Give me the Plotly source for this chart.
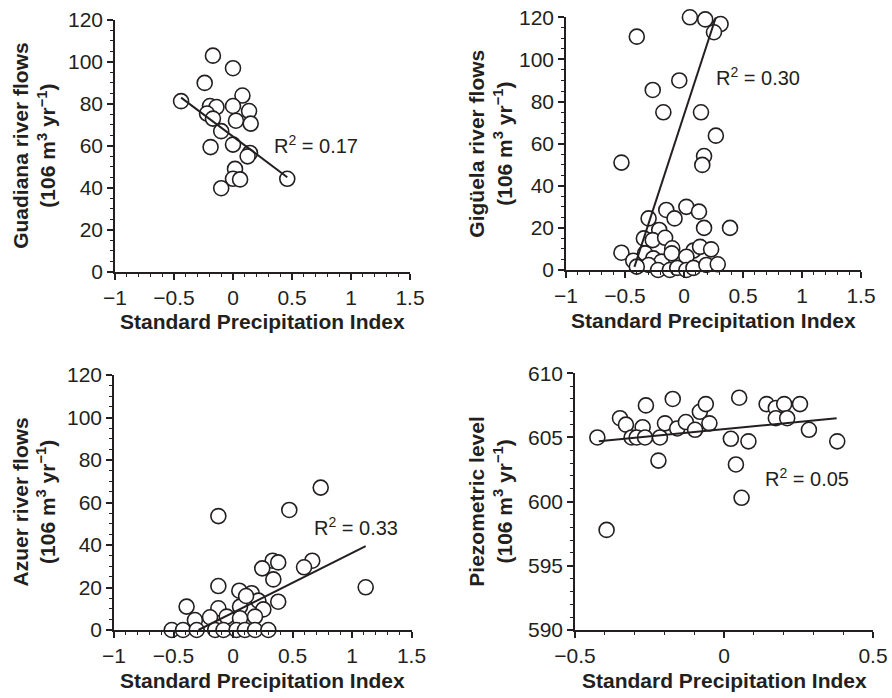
import plotly.graph_objects as go

# ---------------- data ----------------
# Panel A: Guadiana
gua_x = [-0.44, -0.17, 0.0, -0.24, 0.08, -0.195, -0.14, -0.22, 0.0, 0.136, 0.025, 0.15,
         -0.17, -0.10, -0.19, 0.0, 0.144, 0.124, 0.017, 0.0, 0.06, -0.10, 0.46]
gua_y = [81.3, 103, 97, 90, 84, 79, 78.5, 75.4, 79, 76.6, 72, 70.6,
         73, 67, 59.4, 60.6, 56.6, 55, 49, 44.3, 44, 39.8, 44.3]
gua_trend_x = [-0.44, 0.46]
gua_trend_y = [83, 45]

# Panel B: Gigüela
gig_x = [0.05, 0.18, 0.31, 0.254, -0.40, -0.04, -0.265, -0.175, 0.144, 0.27, -0.53, 0.17,
         0.155, 0.02, -0.15, 0.127, -0.30, -0.08, -0.21, 0.17, 0.39, -0.34, -0.265, -0.16,
         -0.10, 0.08, 0.136, 0.23, -0.53, -0.43, -0.33, -0.26, -0.19, -0.104, 0.02, -0.30,
         -0.22, -0.12, -0.057, 0.02, 0.08, 0.19, 0.286, -0.40]
gig_y = [120, 119, 116.8, 112.9, 110.8, 90, 85.5, 74.9, 74.9, 63.8, 51, 54.1,
         49.9, 30, 28.5, 27.7, 24.5, 24.5, 19, 20, 20, 15, 14.2, 15.3,
         10.3, 9.2, 11, 9.8, 8.2, 4.4, 7.9, 5.5, 4, 7.9, 6.3, 2.4,
         0, 0, 1, 0, 1, 2.4, 2.7, 1.6]
gig_trend_x = [-0.42, 0.27]
gig_trend_y = [1.5, 120]

# Panel C: Azuer
azu_x = [0.737, 0.473, -0.123, 1.115, 0.666, 0.597, 0.333, 0.38, 0.246, 0.339, -0.123, 0.053,
         0.157, 0.213, 0.38, -0.39, -0.123, 0.059, 0.255, -0.32, -0.193, -0.053, 0.059, 0.185,
         0.11, -0.515, -0.42, -0.305, -0.15, -0.08, 0.03, 0.10, 0.185, 0.297]
azu_y = [67, 56.5, 53.6, 20.1, 32.6, 29.5, 32.6, 31.8, 29, 23.8, 20.7, 18.5,
         17.3, 13.8, 13.3, 11, 10.2, 11, 9.7, 4.7, 6, 6.3, 5.5, 6.3,
         16, 0, 0, 0, 0, 0, 0, 0, 0, 0]
azu_trend_x = [-0.29, 1.115]
azu_trend_y = [0, 39.5]

# Panel D: Piezometric level
pie_x = [-0.425, -0.394, -0.349, -0.329, -0.262, -0.172, -0.273, -0.31, -0.293, -0.265, -0.215,
         -0.198, -0.22, -0.157, -0.128, -0.097, -0.081, -0.061, -0.049, 0.023, 0.051, 0.082,
         0.04, 0.059, 0.143, 0.174, 0.202, 0.174, 0.212, 0.255, 0.285, 0.38]
pie_y = [605.0, 597.8, 606.5, 606.0, 607.5, 608.0, 605.8, 605.0, 605.0, 605.0, 605.0,
         606.1, 603.2, 605.7, 606.2, 605.6, 607.0, 607.6, 606.1, 604.9, 608.1, 604.7,
         602.9, 600.3, 607.6, 607.3, 607.6, 606.5, 606.5, 607.6, 605.6, 604.7]
pie_trend_x = [-0.42, 0.378]
pie_trend_y = [604.7, 606.5]

r2_texts = ["0.17", "0.30", "0.33", "0.05"]
y_titles = ["Guadiana river flows", "Gigüela river flows", "Azuer river flows", "Piezometric level"]
x_title = "Standard Precipitation Index"
unit = "(106 m<sup>3</sup> yr<sup>\u22121</sup>)"

# ---------------- layout geometry ----------------
W, H = 892, 698
FONT = "Liberation Sans, Arial, sans-serif"
INK = "#231f20"
FS = 21

def dom_x(a, b):
    return [a / W, b / W]

def dom_y(top, bottom):
    return [1 - bottom / H, 1 - top / H]

panels = [
    dict(xd=dom_x(115, 410), yd=dom_y(20, 271.7), xr=[-1, 1.5], yr=[0, 120], xdt=0.5, ydt=20,
         xmin=0.1, ymin=5, x=gua_x, y=gua_y, tx=gua_trend_x, ty=gua_trend_y,
         r2pos=(0.33, 60.5), ytx=34, axis_bottom=271.7),
    dict(xd=dom_x(566, 861), yd=dom_y(17.3, 270), xr=[-1, 1.5], yr=[0, 120], xdt=0.5, ydt=20,
         xmin=0.1, ymin=5, x=gig_x, y=gig_y, tx=gig_trend_x, ty=gig_trend_y,
         r2pos=(0.25, 92), ytx=490, axis_bottom=270),
    dict(xd=dom_x(114, 411.5), yd=dom_y(375, 630), xr=[-1, 1.5], yr=[0, 120], xdt=0.5, ydt=20,
         xmin=0.1, ymin=5, x=azu_x, y=azu_y, tx=azu_trend_x, ty=azu_trend_y,
         r2pos=(0.66, 48.6), ytx=34, axis_bottom=630),
    dict(xd=dom_x(575, 873), yd=dom_y(373.3, 630), xr=[-0.5, 0.5], yr=[590, 610], xdt=0.5, ydt=5,
         xmin=0.1, ymin=1, x=pie_x, y=pie_y, tx=pie_trend_x, ty=pie_trend_y,
         r2pos=(0.132, 601.9), ytx=490, axis_bottom=630),
]

fig = go.Figure()
annotations = []
for i, p in enumerate(panels):
    n = "" if i == 0 else str(i + 1)
    xa, ya = "x" + n, "y" + n
    fig.add_trace(go.Scatter(
        x=p["x"], y=p["y"], mode="markers", xaxis=xa, yaxis=ya, cliponaxis=False,
        marker=dict(symbol="circle", size=15, color="white", line=dict(color=INK, width=1.6)),
        showlegend=False, hoverinfo="x+y"))
    fig.add_trace(go.Scatter(
        x=p["tx"], y=p["ty"], mode="lines", xaxis=xa, yaxis=ya, cliponaxis=False,
        line=dict(color=INK, width=2), showlegend=False, hoverinfo="skip"))

    axcommon = dict(showgrid=False, zeroline=False, showline=True, linecolor=INK, linewidth=1.6,
                    ticks="outside", ticklen=6, tickwidth=1.6, tickcolor=INK, automargin=False,
                    tickangle=0,
                    tickfont=dict(family=FONT, size=FS, color=INK), fixedrange=True)
    fig.update_layout(**{
        "xaxis" + n: dict(domain=p["xd"], range=p["xr"], dtick=p["xdt"], tick0=0,
                          anchor=ya,
                          minor=dict(dtick=p["xmin"], ticks="outside", ticklen=3.5,
                                     tickwidth=1.3, tickcolor=INK),
                          **axcommon),
        "yaxis" + n: dict(domain=p["yd"], range=p["yr"], dtick=p["ydt"], tick0=0,
                          anchor=xa,
                          minor=dict(dtick=p["ymin"], ticks="outside", ticklen=3.5,
                                     tickwidth=1.3, tickcolor=INK),
                          **axcommon),
    })

    # R^2 label
    annotations.append(dict(
        x=p["r2pos"][0], y=p["r2pos"][1], xref=xa, yref=ya, xanchor="left", yanchor="middle",
        text="R<sup>2</sup> = " + r2_texts[i], showarrow=False,
        font=dict(family=FONT, size=20, color=INK)))
    # x title
    xc = (p["xd"][0] + p["xd"][1]) / 2
    annotations.append(dict(
        x=xc, y=1 - (p["axis_bottom"] + 50) / H, xref="paper", yref="paper",
        xanchor="center", yanchor="middle", text="<b>" + x_title + "</b>", showarrow=False,
        font=dict(family=FONT, size=FS, color=INK)))
    # y title
    yc = (p["yd"][0] + p["yd"][1]) / 2
    annotations.append(dict(
        x=p["ytx"] / W, y=yc, xref="paper", yref="paper", xanchor="center", yanchor="middle",
        textangle=-90, text="<b>" + y_titles[i] + "</b><br><b>" + unit + "</b>",
        showarrow=False, font=dict(family=FONT, size=FS, color=INK)))

fig.update_layout(
    width=W, height=H, margin=dict(l=0, r=0, t=0, b=0),
    paper_bgcolor="white", plot_bgcolor="white",
    font=dict(family=FONT, size=FS, color=INK),
    annotations=annotations, showlegend=False,
)

fig.write_html("out.html")
